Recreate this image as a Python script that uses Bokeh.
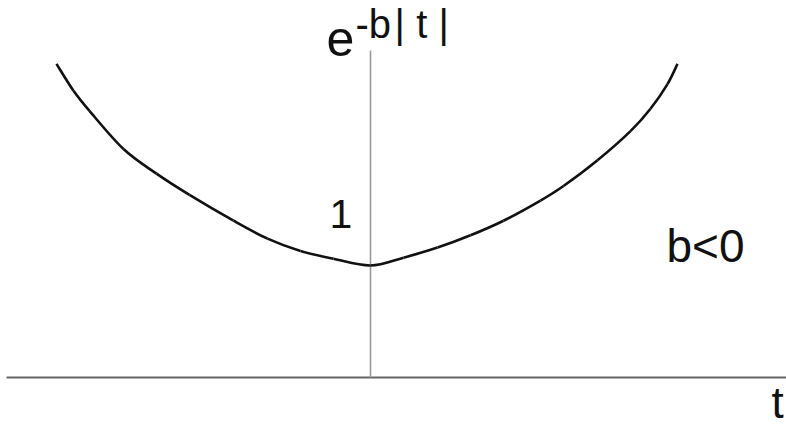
from bokeh.plotting import figure
from bokeh.models import Label, Range1d
from bokeh.embed import file_html
from bokeh.resources import INLINE

# sampled points of the curve e^{-b|t|} for b<0 (t, value)
t_vals = [-3.14, -2.97, -2.81, -2.47, -2.14, -1.81, -1.37, -1.03, -0.70, -0.37,
          0.00, 0.33, 0.67, 1.00, 1.33, 1.70, 1.93, 2.27, 2.60, 2.80, 2.97, 3.07]
y_vals = [2.80, 2.56, 2.38, 2.04, 1.82, 1.63, 1.40, 1.24, 1.13, 1.06,
          1.00, 1.07, 1.16, 1.27, 1.40, 1.58, 1.71, 1.94, 2.20, 2.40, 2.62, 2.80]

# axis extents
t_axis = [-3.64, 4.2]
v_axis = [0.0, 2.92]

W, H = 786, 428
p = figure(width=W, height=H, output_backend="svg", toolbar_location=None,
           x_range=Range1d(-3.70, 4.16), y_range=Range1d(-0.455, 3.366),
           min_border=0, outline_line_color=None)
p.axis.visible = False
p.grid.visible = False
p.background_fill_color = "white"
p.border_fill_color = "white"

# horizontal t axis and vertical value axis
p.line(t_axis, [0, 0], line_color="#666666", line_width=2)
p.line([0, 0], v_axis, line_color="#999999", line_width=1.6)

# smooth curve through the sampled points (Catmull-Rom -> cubic Bezier pieces)
x0, y0, x1, y1, cx0, cy0, cx1, cy1 = [], [], [], [], [], [], [], []
n = len(t_vals)
for i in range(n - 1):
    pa = (t_vals[max(i - 1, 0)], y_vals[max(i - 1, 0)])
    pb = (t_vals[i], y_vals[i])
    pc = (t_vals[i + 1], y_vals[i + 1])
    pd = (t_vals[min(i + 2, n - 1)], y_vals[min(i + 2, n - 1)])
    x0.append(pb[0]); y0.append(pb[1])
    x1.append(pc[0]); y1.append(pc[1])
    cx0.append(pb[0] + (pc[0] - pa[0]) / 6); cy0.append(pb[1] + (pc[1] - pa[1]) / 6)
    cx1.append(pc[0] - (pd[0] - pb[0]) / 6); cy1.append(pc[1] - (pd[1] - pb[1]) / 6)
p.bezier(x0=x0, y0=y0, x1=x1, y1=y1, cx0=cx0, cy0=cy0, cx1=cx1, cy1=cy1,
         line_color="#111111", line_width=2.6)

font = "Liberation Sans"
SHIFT = 17  # baseline correction for screen-unit labels

def lab(txt, x, y, size, align="left"):
    p.add_layout(Label(x=x, y=y + SHIFT, x_units="screen", y_units="screen",
                       text=txt, text_font=font, text_font_size=f"{size}px",
                       text_color="#111111", text_align=align,
                       text_baseline="alphabetic"))

lab("e", 326, H - 55, 50)
lab("-b\u200a|\u2009\u200at\u2009\u200a|", 355, H - 40, 40)
lab("1", 329, H - 230, 41)
lab("b<0", 666, H - 262, 46)
lab("t", 771, H - 419, 44)

open("out.html", "w").write(file_html(p, INLINE))
